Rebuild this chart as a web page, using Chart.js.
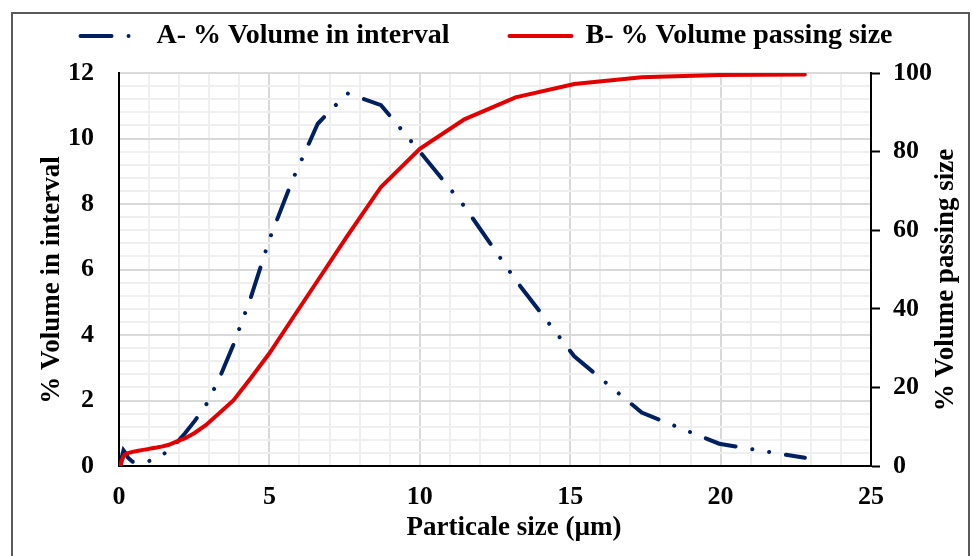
<!DOCTYPE html>
<html>
<head>
<meta charset="utf-8">
<script src="https://cdn.jsdelivr.net/npm/chart.js@4.4.1/dist/chart.umd.min.js"></script>
<style>
body{margin:0;background:#fff;}
#wrap{position:relative;width:973px;height:556px;overflow:hidden;}
#frame{position:absolute;left:11px;top:12px;width:959px;height:600px;border:2px solid #595959;box-sizing:border-box;}
canvas{position:absolute;left:0;top:0;}
</style>
</head>
<body>
<div id="wrap"><div id="frame"></div><canvas id="psd" width="973" height="556"></canvas></div>
<script>
// particle size bins (um)
const sizes = [0.05, 0.1, 0.15, 0.2, 0.3, 0.45, 0.6, 0.8, 0.955, 1.096, 1.259, 1.445, 1.66, 1.905, 2.188, 2.512, 2.884, 3.311, 3.802, 4.365, 5.012, 5.754, 6.607, 7.586, 8.71, 10.0, 11.482, 13.183, 15.136, 17.378, 19.953, 22.8];
// A - % volume in interval (left axis)
const volInterval = [0, 0.3, 0.48, 0.42, 0.25, 0.13, 0.1, 0.1, 0.14, 0.18, 0.25, 0.34, 0.48, 0.7, 0.99, 1.37, 1.85, 2.62, 3.7, 5.1, 6.95, 8.7, 10.45, 11.38, 11.02, 9.6, 7.93, 5.68, 3.35, 1.63, 0.68, 0.25];
// B - % volume passing size (right axis)
const volPassing = [0, 1.5, 2.4, 2.9, 3.3, 3.6, 3.8, 4.1, 4.3, 4.5, 4.7, 5.0, 5.4, 6.2, 7.0, 8.4, 10.4, 13.3, 16.7, 22.2, 28.8, 37.4, 47.2, 58.5, 71, 80.7, 88.2, 93.8, 97.2, 98.9, 99.5, 99.6];

const xMajor = 5, xMinor = 1;
const yMajor = 2, yMinor = 0.4;
const y2Step = 20;
const xTitle = 'Particale size (\u00b5m)';
const yTitle = '% Volume in interval';
const y2Title = '% Volume passing size';

const serif = '"Liberation Serif", "Times New Roman", serif';
const tickFont = {family: serif, size: 26, weight: 'bold'};
const navy = '#002060';
const red = '#e30000';

const isMult = (v, m) => Math.abs(v / m - Math.round(v / m)) < 1e-6;

// axis titles drawn by hand so the right one reads bottom-to-top like the left one
const axisTitles = {
  id: 'axisTitles',
  afterDraw(chart) {
    const ctx = chart.ctx;
    ctx.save();
    ctx.fillStyle = '#000';
    ctx.font = 'bold 27px ' + serif;
    ctx.textAlign = 'center';
    ctx.textBaseline = 'middle';
    ctx.fillText(xTitle, 514, 528);
    [[yTitle, 52], [y2Title, 946]].forEach(([t, x]) => {
      ctx.save();
      ctx.translate(x, 280);
      ctx.rotate(-Math.PI / 2);
      ctx.fillText(t, 0, 0);
      ctx.restore();
    });
    ctx.restore();
  }
};

const psd = new Chart(document.getElementById('psd').getContext('2d'), {
  type: 'line',
  data: {
    datasets: [{
      label: 'A- % Volume in interval',
      data: sizes.map((s, i) => ({x: s, y: volInterval[i]})),
      yAxisID: 'y',
      borderColor: navy,
      backgroundColor: navy,
      borderWidth: 4,
      borderDash: [31, 17, 0.01, 17, 0.01, 17],
      borderCapStyle: 'round',
      pointRadius: 0,
      tension: 0,
      order: 1
    }, {
      label: 'B- % Volume passing size',
      data: sizes.map((s, i) => ({x: s, y: volPassing[i]})),
      yAxisID: 'y2',
      borderColor: red,
      backgroundColor: red,
      borderWidth: 4,
      borderCapStyle: 'round',
      pointRadius: 0,
      tension: 0,
      order: 0
    }]
  },
  options: {
    responsive: false,
    animation: false,
    layout: {padding: {top: -38, left: 0, right: 0, bottom: 0}},
    plugins: {
      tooltip: {enabled: false},
      legend: {
        labels: {
          usePointStyle: true,
          pointStyle: 'line',
          pointStyleWidth: 62,
          padding: 60,
          color: '#000',
          font: {family: serif, size: 28, weight: 'bold'},
          sort: (a, b) => a.datasetIndex - b.datasetIndex,
          generateLabels: (chart) => Chart.defaults.plugins.legend.labels.generateLabels(chart).map(item => {
            const ds = chart.data.datasets[item.datasetIndex];
            item.lineDash = ds.borderDash || [];
            item.lineCap = 'round';
            item.pointStyle = 'line';
            return item;
          })
        }
      }
    },
    scales: {
      x: {
        type: 'linear',
        min: 0,
        max: 25,
        border: {color: '#000', width: 2},
        grid: {
          drawTicks: false,
          lineWidth: 2,
          color: c => (c.tick && isMult(c.tick.value, xMajor)) ? '#d9d9d9' : '#efefef'
        },
        ticks: {
          stepSize: xMinor,
          autoSkip: false,
          maxRotation: 0,
          padding: 16,
          color: '#000',
          font: tickFont,
          callback: v => isMult(v, xMajor) ? v : ''
        },
        afterFit: s => { s.height = 90; }
      },
      y: {
        type: 'linear',
        position: 'left',
        min: 0,
        max: 12,
        border: {color: '#000', width: 2},
        grid: {
          drawTicks: false,
          lineWidth: 2,
          color: c => (c.tick && isMult(c.tick.value, yMajor)) ? '#d9d9d9' : '#efefef'
        },
        ticks: {
          stepSize: yMinor,
          autoSkip: false,
          padding: 25,
          color: '#000',
          font: tickFont,
          callback: v => isMult(v, yMajor) ? Math.round(v) : ''
        },
        afterFit: s => { s.width = 119; }
      },
      y2: {
        type: 'linear',
        position: 'right',
        min: 0,
        max: 100,
        border: {color: '#000', width: 2},
        grid: {drawOnChartArea: false, drawTicks: true, tickLength: 9, tickColor: '#000', tickWidth: 2},
        ticks: {stepSize: y2Step, padding: 13, color: '#000', font: tickFont},
        afterFit: s => { s.width = 102; }
      },
      // empty strip between legend and plot
      gap: {
        type: 'linear',
        position: 'top',
        grid: {display: false, drawTicks: false},
        border: {display: false},
        ticks: {display: false},
        afterFit: s => { s.height = 13; }
      }
    }
  },
  plugins: [axisTitles]
});
</script>
</body>
</html>
